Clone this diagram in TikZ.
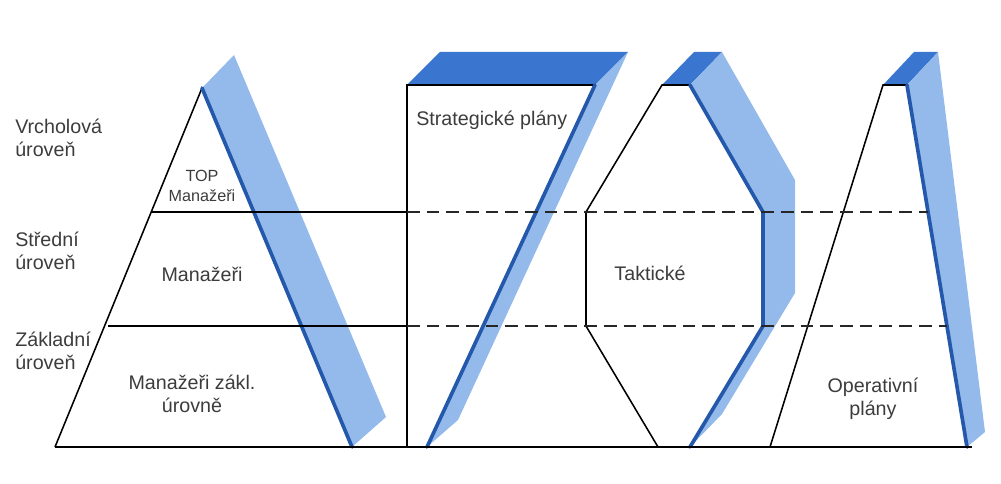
\documentclass[tikz,border=0pt]{standalone}
\usepackage{fontspec}
\setmainfont{Liberation Sans}
\usepackage{tikz}
\usetikzlibrary{positioning, calc}

\definecolor{facelight}{RGB}{148,186,236}
\definecolor{facetop}{RGB}{58,118,207}
\definecolor{edgeblue}{RGB}{36,88,170}
\definecolor{textgray}{RGB}{60,60,60}

\tikzset{
    face/.style={fill=facelight, draw=none},
    topface/.style={fill=facetop, draw=none},
    blueedge/.style={draw=edgeblue, line width=2.6pt, line cap=round},
    outline/.style={draw=black, line width=1.1pt},
    level/.style={draw=black, line width=1.1pt},
    leveldash/.style={draw=black!85, line width=1.3pt, dash pattern=on 9pt off 5pt},
    lbl/.style={text=textgray, font=\fontsize{14}{16.5}\selectfont, align=left, inner sep=0pt},
    ctr/.style={text=textgray, font=\fontsize{14}{16.5}\selectfont, align=center, inner sep=0pt},
    small/.style={text=textgray, font=\fontsize{11.5}{14}\selectfont, align=center, inner sep=0pt}
}

\begin{document}
\begin{tikzpicture}[x=0.025cm, y=-0.025cm]
    \useasboundingbox (0,0) rectangle (1001,484);

    % Pyramid of managers
    \fill[face] (202,88) -- (234,55) -- (386,417) -- (352,447) -- cycle;
    \draw[outline] (55,447) -- (202,88);
    \draw[blueedge] (202,88) -- (352,447);

    % Strategic plans
    \fill[topface] (407,85) -- (440,52) -- (628,52) -- (595,85) -- cycle;
    \fill[face] (595,85) -- (628,52) -- (458,420) -- (427,447) -- cycle;
    \draw[outline] (407,447) -- (407,85) -- (595,85);
    \draw[blueedge] (595,85) -- (427,447);

    % Tactical plans
    \fill[topface] (662,85) -- (694,52) -- (722,52) -- (690,85) -- cycle;
    \fill[face] (690,85) -- (722,52) -- (795,180) -- (795,293) -- (722,414)
        -- (690,447) -- (763,326) -- (763,212) -- cycle;
    \draw[outline] (690,85) -- (662,85) -- (586,212) -- (586,326) -- (658,447);
    \draw[blueedge] (690,85) -- (763,212) -- (763,326) -- (690,447);

    % Operational plans
    \fill[topface] (883,85) -- (914,52) -- (938,52) -- (907,85) -- cycle;
    \fill[face] (907,85) -- (938,52) -- (985,432) -- (967,447) -- cycle;
    \draw[outline] (770,447) -- (883,85) -- (907,85);
    \draw[blueedge] (907,85) -- (967,447);

    % Levels
    \coordinate (top1) at (152,212);
    \coordinate (top2) at (407,212);
    \coordinate (top3) at (928,212);
    \coordinate (mid1) at (108,326);
    \coordinate (mid2) at (407,326);
    \coordinate (mid3) at (947,326);
    \coordinate (base1) at (55,447);
    \coordinate (base2) at (972,447);
    \draw[level] (top1) -- (top2);
    \draw[level] (mid1) -- (mid2);
    \draw[leveldash] (top2) -- (top3);
    \draw[leveldash] (mid2) -- (mid3);
    \draw[level] (base1) -- (base2);

    % Labels
    \node[lbl, anchor=north west] (vrchol) at (15,119) {Vrcholová\\úroveň};
    \node[lbl, anchor=north west] (stredni) at (15,232) {Střední\\úroveň};
    \node[lbl, anchor=north west] (zaklad) at (15,332) {Základní\\úroveň};

    \node[small] (topman) at (202,186) {TOP\\Manažeři};
    \node[ctr] (manazeri) at (202,274) {Manažeři};
    \node[ctr] (zakman) at (192,394) {Manažeři zákl.\\úrovně};

    \node[ctr, anchor=west] (strat) at (416,120) {Strategické plány};
    \node[ctr] (takt) at (650,273) {Taktické};
    \node[ctr] (oper) at (873,399) {Operativní\\plány};
\end{tikzpicture}
\end{document}
